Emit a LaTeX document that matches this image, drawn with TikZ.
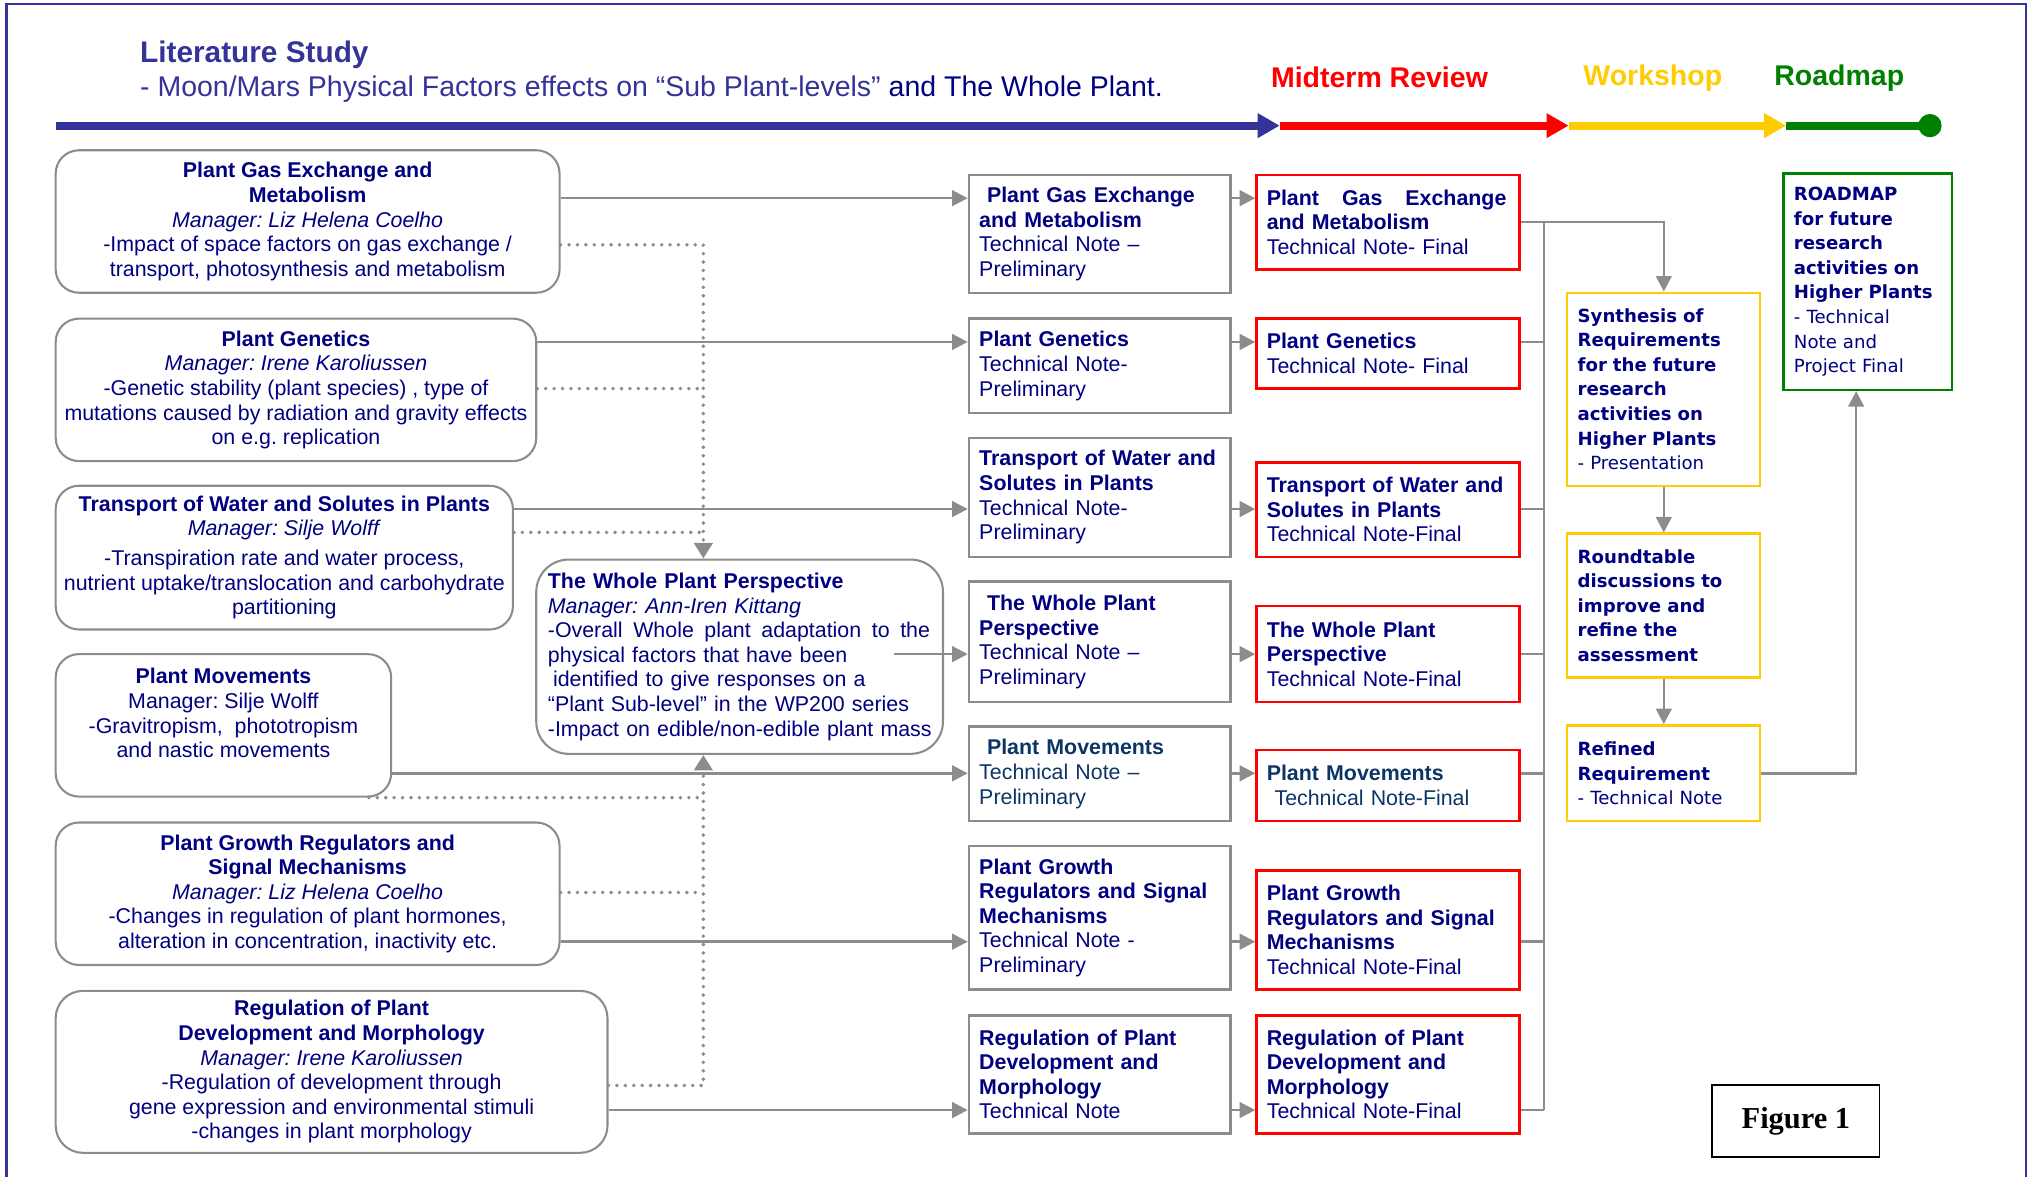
\documentclass[tikz,border=0pt]{standalone}
\usepackage{fontspec}
\setmainfont{Liberation Sans}
\newfontfamily\wideface{DejaVu Sans}
\newfontfamily\serifface{Liberation Serif}
\usetikzlibrary{arrows.meta}
\frenchspacing

\definecolor{navy}{HTML}{000080}
\definecolor{deepteal}{HTML}{0B3566}
\definecolor{lineblue}{HTML}{333399}
\definecolor{linegray}{HTML}{8C8C8C}
\definecolor{midred}{HTML}{FF0000}
\definecolor{shopyellow}{HTML}{FFCC00}
\definecolor{mapgreen}{HTML}{008000}

\tikzset{
  topic/.style={draw=linegray, line width=1.6pt, align=center, text=navy,
    font=\fontsize{16.5}{19}\selectfont, inner sep=0pt},
  prelim/.style={draw=linegray, line width=1.8pt, align=left, text=navy,
    font=\fontsize{16.5}{19}\selectfont, inner xsep=8pt, inner ysep=0pt,
    minimum width=202pt, text width=186pt},
  final/.style={prelim, draw=midred, minimum width=203pt, text width=187pt},
  shopbox/.style={draw=shopyellow, line width=1.8pt, align=left, text=navy,
    font=\fontsize{14}{19}\wideface, inner xsep=8pt, inner ysep=0pt,
    minimum width=149pt, text width=133pt},
  mapbox/.style={shopbox, draw=mapgreen, minimum width=130pt, text width=114pt},
  phase/.style={font=\fontsize{22}{26}\selectfont\bfseries, inner sep=0pt},
  conn/.style={linegray, line width=2pt, -{Triangle[length=12pt,width=12pt]}},
  gline/.style={linegray, line width=2pt},
  dotline/.style={linegray, line width=3pt, line cap=round, dash pattern=on 0pt off 6.5pt}
}

\begin{document}
\begin{tikzpicture}[x=1pt, y=-1pt]
  \useasboundingbox (0,0) rectangle (1568,909);
  \draw[lineblue, line width=2pt] (5,909) -- (5,3) -- (1564,3) -- (1564,909);

  % heading and phases
  \node[anchor=west, text=lineblue, font=\fontsize{23}{26}\selectfont\bfseries, inner sep=0pt] (title) at (108,42) {Literature Study};
  \node[anchor=west, text=lineblue, font=\fontsize{22}{26}\selectfont, inner sep=0pt] (subtitle) at (108,69)
    {- Moon/Mars Physical Factors effects on “Sub Plant-levels” \textcolor{navy}{and The Whole Plant.}};
  \node[phase, text=midred] (midterm) at (1065,60) {Midterm Review};
  \node[phase, text=shopyellow] (workshop) at (1276,60) {Workshop};
  \node[phase, text=mapgreen] (roadmap) at (1420,60) {Roadmap};

  \coordinate (t0) at (43,97);
  \coordinate (t1) at (988,97);
  \coordinate (t2) at (1211,97);
  \coordinate (t3) at (1379,97);
  \coordinate (t4) at (1490,97);
  \draw[lineblue, line width=6pt, -{Triangle[length=17pt,width=18pt]}] (t0) -- (t1);
  \draw[midred, line width=6pt, -{Triangle[length=17pt,width=18pt]}] (t1) -- (t2);
  \draw[shopyellow, line width=6pt, -{Triangle[length=17pt,width=18pt]}] (t2) -- (t3);
  \draw[mapgreen, line width=6pt] (t3) -- (t4);
  \fill[mapgreen] (t4) circle (9pt);

  % literature topics
  \node[topic, rounded corners=18pt, minimum width=389pt, minimum height=110pt] (lit1) at (237.5,171)
    {\textbf{Plant Gas Exchange and}\\\textbf{Metabolism}\\\textit{Manager: Liz Helena Coelho}\\-Impact of space factors on gas exchange /\\transport, photosynthesis and metabolism};
  \node[topic, rounded corners=18pt, minimum width=371pt, minimum height=110pt] (lit2) at (228.5,301)
    {\textbf{Plant Genetics}\\\textit{Manager: Irene Karoliussen}\\-Genetic stability (plant species) , type of\\mutations caused by radiation and gravity effects\\on e.g. replication};
  \node[topic, rounded corners=18pt, minimum width=353pt, minimum height=111pt] (lit3) at (219.5,430.5)
    {\textbf{Transport of Water and Solutes in Plants}\\\textit{Manager: Silje Wolff}\\[4pt]-Transpiration rate and water process,\\nutrient uptake/translocation and carbohydrate\\partitioning};
  \node[topic, rounded corners=18pt, minimum width=259pt, minimum height=110pt] (lit4) at (172.5,560)
    {\textbf{Plant Movements}\\Manager: Silje Wolff\\-Gravitropism,\ \ phototropism\\and nastic movements\\\mbox{}};
  \node[topic, rounded corners=18pt, minimum width=389pt, minimum height=110pt] (lit5) at (237.5,690)
    {\textbf{Plant Growth Regulators and}\\\textbf{Signal Mechanisms}\\\textit{Manager: Liz Helena Coelho}\\-Changes in regulation of plant hormones,\\alteration in concentration, inactivity etc.};
  \node[topic, rounded corners=21pt, minimum width=426pt, minimum height=125pt] (lit6) at (256,827.5)
    {\textbf{Regulation of Plant}\\\textbf{Development and Morphology}\\\textit{Manager: Irene Karoliussen}\\-Regulation of development through\\gene expression and environmental stimuli\\-changes in plant morphology};
  \node[topic, align=left, text width=302pt, inner xsep=6pt, rounded corners=25pt, minimum width=314pt, minimum height=150pt] (whole) at (571,507)
    {\hspace*{3pt}\textbf{The Whole Plant Perspective}\\\hspace*{3pt}\textit{Manager: Ann-Iren Kittang}\\\makebox[298pt][s]{\hspace*{3pt}-Overall\hfill Whole\hfill plant\hfill adaptation\hfill to\hfill the}\\\hspace*{3pt}physical factors that have been\\\hspace*{7pt}identified to give responses on a\\\hspace*{3pt}“Plant Sub-level” in the WP200 series\\\hspace*{3pt}-Impact on edible/non-edible plant mass};

  % preliminary notes
  \node[prelim, minimum height=91pt] (pre1) at (849,180.5) {\hspace*{6pt}\textbf{Plant Gas Exchange}\\\textbf{and Metabolism}\\Technical Note –\\Preliminary};
  \node[prelim, minimum height=73pt] (pre2) at (849,282.5) {\textbf{Plant Genetics}\\Technical Note-\\Preliminary};
  \node[prelim, minimum height=92pt] (pre3) at (849,384) {\textbf{Transport of Water and}\\\textbf{Solutes in Plants}\\Technical Note-\\Preliminary};
  \node[prelim, minimum height=93pt] (pre4) at (849,495.5) {\hspace*{6pt}\textbf{The Whole Plant}\\\textbf{Perspective}\\Technical Note –\\Preliminary};
  \node[prelim, text=deepteal, minimum height=73pt] (pre5) at (849,597.5) {\hspace*{6pt}\textbf{Plant Movements}\\Technical Note –\\Preliminary};
  \node[prelim, minimum height=111pt] (pre6) at (849,708.5) {\textbf{Plant Growth}\\\textbf{Regulators and Signal}\\\textbf{Mechanisms}\\Technical Note -\\Preliminary};
  \node[prelim, minimum height=91pt] (pre7) at (849,829.5) {\textbf{Regulation of Plant}\\\textbf{Development and}\\\textbf{Morphology}\\Technical Note};

  % final notes
  \node[final, minimum height=73pt] (fin1) at (1071.5,171.5) {\makebox[185pt][s]{\bfseries Plant\hfill Gas\hfill Exchange}\\\textbf{and Metabolism}\\Technical Note- Final};
  \node[final, minimum height=54pt] (fin2) at (1071.5,273) {\textbf{Plant Genetics}\\Technical Note- Final};
  \node[final, minimum height=73pt] (fin3) at (1071.5,393.5) {\textbf{Transport of Water and}\\\textbf{Solutes in Plants}\\Technical Note-Final};
  \node[final, minimum height=74pt] (fin4) at (1071.5,505) {\textbf{The Whole Plant}\\\textbf{Perspective}\\Technical Note-Final};
  \node[final, text=deepteal, minimum height=55pt] (fin5) at (1071.5,606.5) {\textbf{Plant Movements}\\\hspace*{6pt}Technical Note-Final};
  \node[final, minimum height=92pt] (fin6) at (1071.5,718) {\textbf{Plant Growth}\\\textbf{Regulators and Signal}\\\textbf{Mechanisms}\\Technical Note-Final};
  \node[final, minimum height=91pt] (fin7) at (1071.5,829.5) {\textbf{Regulation of Plant}\\\textbf{Development and}\\\textbf{Morphology}\\Technical Note-Final};

  % workshop and roadmap
  \node[shopbox, minimum height=149pt] (synth) at (1284.5,300.5) {\textbf{Synthesis of}\\\textbf{Requirements}\\\textbf{for the future}\\\textbf{research}\\\textbf{activities on}\\\textbf{Higher Plants}\\- Presentation};
  \node[shopbox, minimum height=111pt] (round) at (1284.5,467.5) {\textbf{Roundtable}\\\textbf{discussions to}\\\textbf{improve and}\\\textbf{refine the}\\\textbf{assessment}};
  \node[shopbox, minimum height=74pt] (refined) at (1284.5,597) {\textbf{Refined}\\\textbf{Requirement}\\- Technical Note};
  \node[mapbox, minimum height=167pt] (rmap) at (1442,217.5) {\textbf{ROADMAP}\\\textbf{for future}\\\textbf{research}\\\textbf{activities on}\\\textbf{Higher Plants}\\- Technical\\Note and\\Project Final};

  \node[draw=black, line width=1.5pt, minimum width=129pt, minimum height=55pt, inner sep=0pt,
    font={\fontsize{23.5}{26}\serifface\bfseries}] (fig) at (1386.5,865.5) {Figure 1};

  % rows of the connectors
  \coordinate (row1) at (0,153);
  \coordinate (row2) at (0,264);
  \coordinate (row3) at (0,393);
  \coordinate (row4) at (0,505);
  \coordinate (row5) at (0,597);
  \coordinate (row6) at (0,727);
  \coordinate (row7) at (0,857);
  \coordinate (dot1) at (0,189);
  \coordinate (dot2) at (0,300);
  \coordinate (dot3) at (0,411);
  \coordinate (dot5) at (0,689);
  \coordinate (dot6) at (0,838);
  \coordinate (dv) at (543,0);
  \coordinate (bus) at (1192,0);
  \coordinate (wpout) at (690,505);

  % topics to preliminary notes
  \draw[conn] (lit1.east |- row1) -- (pre1.west |- row1);
  \draw[conn] (lit2.east |- row2) -- (pre2.west |- row2);
  \draw[conn] (lit3.east |- row3) -- (pre3.west |- row3);
  \draw[conn] (wpout) -- (pre4.west |- row4);
  \draw[conn] (lit4.east |- row5) -- (pre5.west |- row5);
  \draw[conn] (lit5.east |- row6) -- (pre6.west |- row6);
  \draw[conn] (lit6.east |- row7) -- (pre7.west |- row7);

  % preliminary to final
  \draw[conn] (pre1.east |- row1) -- (fin1.west |- row1);
  \draw[conn] (pre2.east |- row2) -- (fin2.west |- row2);
  \draw[conn] (pre3.east |- row3) -- (fin3.west |- row3);
  \draw[conn] (pre4.east |- row4) -- (fin4.west |- row4);
  \draw[conn] (pre5.east |- row5) -- (fin5.west |- row5);
  \draw[conn] (pre6.east |- row6) -- (fin6.west |- row6);
  \draw[conn] (pre7.east |- row7) -- (fin7.west |- row7);

  % final notes into the workshop
  \draw[gline] (bus |- fin1.east) -- (bus |- row7);
  \draw[gline] (fin2.east |- row2) -- (bus |- row2);
  \draw[gline] (fin3.east |- row3) -- (bus |- row3);
  \draw[gline] (fin4.east |- row4) -- (bus |- row4);
  \draw[gline] (fin5.east |- row5) -- (bus |- row5);
  \draw[gline] (fin6.east |- row6) -- (bus |- row6);
  \draw[gline] (fin7.east |- row7) -- (bus |- row7);
  \draw[conn] (fin1.east) -| (synth.north);
  \draw[conn] (synth.south) -- (round.north);
  \draw[conn] (round.south) -- (refined.north);
  \draw[conn] (refined.east) -| ([xshift=-9pt]rmap.south);

  % dotted links to the whole plant
  \draw[dotline, -{Triangle[length=12pt,width=14pt]}] (lit1.east |- dot1) -| (dv |- whole.north);
  \draw[dotline] (lit2.east |- dot2) -- (dv |- dot2);
  \draw[dotline] (lit3.east |- dot3) -- (dv |- dot3);
  \draw[dotline, -{Triangle[length=12pt,width=14pt]}] (lit6.east |- dot6) -| (dv |- whole.south);
  \draw[dotline] (lit5.east |- dot5) -- (dv |- dot5);
  \draw[dotline] ([xshift=-18pt]lit4.south east) -- (dv |- lit4.south);
\end{tikzpicture}
\end{document}
